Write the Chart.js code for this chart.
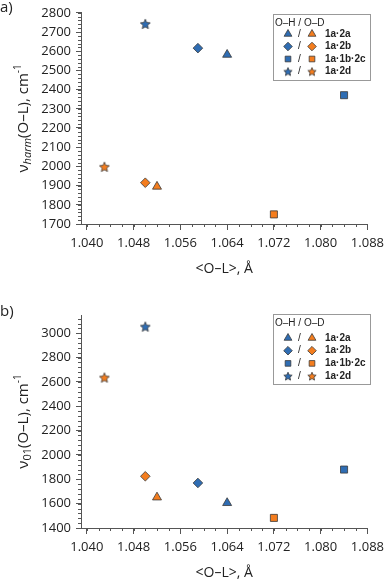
<!DOCTYPE html>
<html>
<head>
<meta charset="utf-8">
<script src="https://cdn.jsdelivr.net/npm/chart.js@4/dist/chart.umd.min.js"></script>
<style>
  html, body { margin: 0; padding: 0; background: #fff; }
  #wrap { position: relative; width: 389px; height: 581px; }
  canvas { display: block; }
</style>
</head>
<body>
<div id="wrap">
  <canvas id="chartA" width="389" height="290"></canvas>
  <canvas id="chartB" width="389" height="291"></canvas>
</div>
<script>
'use strict';

// ---- data ----
// order of points: 1a·2a (triangle), 1a·2b (diamond), 1a·1b·2c (square), 1a·2d (star)
const systems = ['1a·2a', '1a·2b', '1a·1b·2c', '1a·2d'];
const olOH = [1.064, 1.059, 1.084, 1.050];
const olOD = [1.052, 1.050, 1.072, 1.043];
const harmOH = [2582, 2616, 2371, 2742];
const harmOD = [1895, 1915, 1750, 1998];
const nu01OH = [1606, 1770, 1880, 3055];
const nu01OD = [1652, 1825, 1483, 2636];

const xTicks = [1.040, 1.048, 1.056, 1.064, 1.072, 1.080, 1.088];
const yTicksA = [1700, 1800, 1900, 2000, 2100, 2200, 2300, 2400, 2500, 2600, 2700, 2800];
const yTicksB = [1400, 1600, 1800, 2000, 2200, 2400, 2600, 2800, 3000];

const blueColor = '#2f6db3',
  orangeColor = '#f47d1e',
  edgeColor = '#3a3a3a',
  axisColor = '#555',
  textColor = '#222';

const tickFont = { family: "'Open Sans', sans-serif", size: 13 };

// filled five point star, used as a point style image
function makeStar(fill, r) {
  const c = document.createElement('canvas');
  const s = Math.ceil(r * 2 + 3);
  c.width = s; c.height = s;
  const ctx = c.getContext('2d');
  const cx = s / 2, cy = s / 2 + 0.5, ri = r * 0.46;
  ctx.beginPath();
  for (let i = 0; i < 10; i++) {
    const rr = i % 2 ? ri : r;
    const a = -Math.PI / 2 + i * Math.PI / 5;
    const px = cx + rr * Math.cos(a), py = cy + rr * Math.sin(a);
    i ? ctx.lineTo(px, py) : ctx.moveTo(px, py);
  }
  ctx.closePath();
  ctx.fillStyle = fill;
  ctx.fill();
  ctx.lineWidth = 0.8;
  ctx.strokeStyle = edgeColor;
  ctx.stroke();
  return c;
}

const starBlue = makeStar(blueColor, 5.2),
  starOrange = makeStar(orangeColor, 5.2),
  starBlueSm = makeStar(blueColor, 4.4),
  starOrangeSm = makeStar(orangeColor, 4.4);

const stylesOH = ['triangle', 'rectRot', 'rect', starBlue];
const stylesOD = ['triangle', 'rectRot', 'rect', starOrange];
const radii = [5.2, 4.8, 5, 6];

function points(xs, ys) {
  return xs.map((x, i) => ({ x: x, y: ys[i] }));
}

// minor ticks, panel label, axis titles and the legend box
const decorPlugin = {
  id: 'decor',
  afterDraw(chart, args, opts) {
    const ctx = chart.ctx, area = chart.chartArea;
    const xs = chart.scales.x, ys = chart.scales.y;
    ctx.save();
    ctx.strokeStyle = axisColor;
    ctx.lineWidth = 1;
    ctx.beginPath();
    for (let v = 1.040; v <= 1.0881; v += 0.002) {
      const px = Math.round(xs.getPixelForValue(v)) + 0.5;
      ctx.moveTo(px, area.bottom);
      ctx.lineTo(px, area.bottom + 3);
    }
    for (let v = opts.yMin; v <= opts.yMax + 0.01; v += opts.yMinor) {
      const py = Math.round(ys.getPixelForValue(v)) + 0.5;
      ctx.moveTo(area.left, py);
      ctx.lineTo(area.left - 3, py);
    }
    ctx.stroke();

    ctx.fillStyle = textColor;
    // panel label
    ctx.font = "15px 'Open Sans', sans-serif";
    ctx.textBaseline = 'middle';
    ctx.textAlign = 'left';
    ctx.fillText(opts.panel, 0, opts.panelY);

    // x title
    ctx.textAlign = 'center';
    ctx.font = "14px 'Open Sans', sans-serif";
    ctx.fillText('<O–L>, Å', (area.left + area.right) / 2, area.bottom + 45);

    // y title, rotated, with sub/superscripts
    const parts = [
      { t: 'ν', f: "15px 'Open Sans', sans-serif", dy: 0 },
      { t: opts.sub, f: (opts.subItalic ? 'italic ' : '') + "11px 'Open Sans', sans-serif", dy: 4 },
      { t: '(O–L), cm', f: "15px 'Open Sans', sans-serif", dy: 0 },
      { t: '-1', f: "10px 'Open Sans', sans-serif", dy: -6 }
    ];
    let total = 0;
    parts.forEach(p => { ctx.font = p.f; p.w = ctx.measureText(p.t).width; total += p.w; });
    ctx.translate(24, (area.top + area.bottom) / 2);
    ctx.rotate(-Math.PI / 2);
    ctx.textAlign = 'left';
    let cx = -total / 2;
    parts.forEach(p => { ctx.font = p.f; ctx.fillText(p.t, cx, p.dy); cx += p.w; });
    ctx.setTransform(1, 0, 0, 1, 0, 0);

    // legend
    const lx = 273, ly = opts.legendTop, lw = 97, lh = opts.legendH;
    ctx.fillStyle = '#fff';
    ctx.fillRect(lx, ly, lw, lh);
    ctx.strokeStyle = '#999';
    ctx.strokeRect(lx + 0.5, ly + 0.5, lw, lh);
    ctx.fillStyle = textColor;
    ctx.font = "10px 'Liberation Sans', Arial, sans-serif";
    ctx.textAlign = 'left';
    ctx.fillText('O–H / O–D', lx + 2, ly + 9);
    const legStyles = [['triangle', 4.5], ['rectRot', 4.3], ['rect', 4], [null, 5]];
    systems.forEach((name, i) => {
      const y = ly + opts.rowStart + i * opts.rowGap;
      [[288, blueColor, starBlueSm], [312, orangeColor, starOrangeSm]].forEach(m => {
        ctx.fillStyle = m[1];
        ctx.strokeStyle = edgeColor;
        ctx.lineWidth = 0.8;
        Chart.helpers.drawPoint(ctx, {
          pointStyle: legStyles[i][0] || m[2],
          radius: legStyles[i][1],
          rotation: 0,
          borderWidth: 0.8
        }, m[0], y);
      });
      ctx.fillStyle = textColor;
      ctx.font = "10px 'Liberation Sans', Arial, sans-serif";
      ctx.fillText('/', 298, y);
      ctx.font = "bold 10px 'Liberation Sans', Arial, sans-serif";
      ctx.fillText(name, 325, y);
    });
    ctx.restore();
  }
};

function makeChart(id, ohY, odY, yMin, yMax, yTicks, xHeight, topPad, decor) {
  return new Chart(document.getElementById(id), {
    type: 'scatter',
    data: {
      datasets: [
        {
          data: points(olOH, ohY),
          backgroundColor: blueColor,
          borderColor: edgeColor,
          borderWidth: 0.8,
          pointStyle: stylesOH,
          pointRadius: radii
        },
        {
          data: points(olOD, odY),
          backgroundColor: orangeColor,
          borderColor: edgeColor,
          borderWidth: 0.8,
          pointStyle: stylesOD,
          pointRadius: radii
        }
      ]
    },
    options: {
      responsive: false,
      animation: false,
      events: [],
      layout: { padding: { top: topPad, right: 18, left: 0, bottom: 0 } },
      plugins: {
        legend: { display: false },
        tooltip: { enabled: false },
        decor: decor
      },
      scales: {
        x: {
          type: 'linear',
          min: 1.039,
          max: 1.088,
          afterBuildTicks: s => { s.ticks = xTicks.map(v => ({ value: v })); },
          afterFit: s => { s.height = xHeight; },
          ticks: {
            callback: v => v.toFixed(3),
            font: tickFont,
            color: textColor,
            padding: 5,
            maxRotation: 0,
            autoSkip: false
          },
          grid: { drawOnChartArea: false, tickLength: 6, color: axisColor },
          border: { color: axisColor }
        },
        y: {
          min: yMin,
          max: yMax,
          afterBuildTicks: s => { s.ticks = yTicks.map(v => ({ value: v })); },
          afterFit: s => { s.width = 81; },
          ticks: {
            callback: v => String(v),
            font: tickFont,
            color: textColor,
            padding: 5
          },
          grid: { drawOnChartArea: false, tickLength: 5, color: axisColor },
          border: { color: axisColor }
        }
      }
    },
    plugins: [decorPlugin]
  });
}

makeChart('chartA', harmOH, harmOD, 1700, 2800, yTicksA, 66, 11, {
  panel: 'a)', panelY: 8, sub: 'harm', subItalic: true,
  yMin: 1700, yMax: 2800, yMinor: 20,
  legendTop: 14, legendH: 66, rowStart: 20, rowGap: 12.5
});

makeChart('chartB', nu01OH, nu01OD, 1400, 3150, yTicksB, 53, 25, {
  panel: 'b)', panelY: 22, sub: '01', subItalic: false,
  yMin: 1400, yMax: 3150, yMinor: 40,
  legendTop: 24, legendH: 70, rowStart: 24, rowGap: 12.7
});
</script>
</body>
</html>
